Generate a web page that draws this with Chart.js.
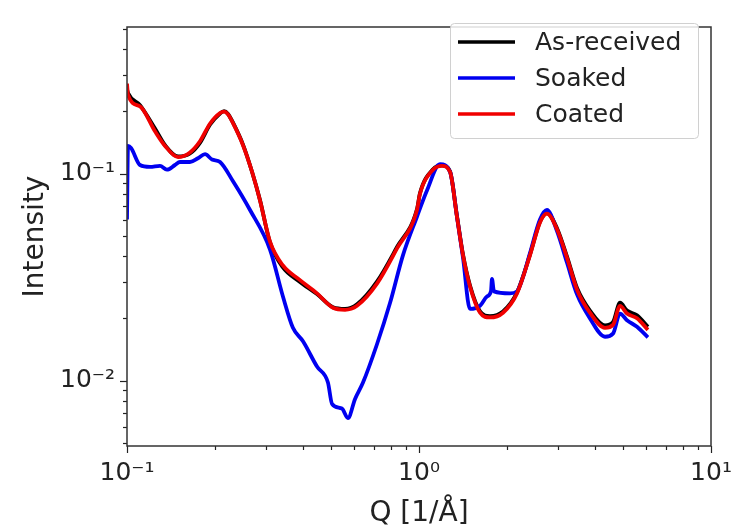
<!DOCTYPE html>
<html>
<head>
<meta charset="utf-8">
<script src="https://cdn.jsdelivr.net/npm/chart.js@4.4.1/dist/chart.umd.min.js"></script>
<style>
  html, body { margin: 0; padding: 0; background: #fff; }
  #wrap { width: 745px; height: 525px; }
</style>
</head>
<body>
<div id="wrap"><canvas id="chart" width="745" height="525"></canvas></div>
<script>
// --- Data (Q in 1/Å, intensity) ---

const SERIES_LABELS = ['As-received', 'Soaked', 'Coated'];
const SERIES_COLORS = ['#000000', '#0000f0', '#f00000'];

const qReceived = [
  0.100, 0.1008, 0.1108, 0.1247, 0.135, 0.1496, 0.1643, 0.178, 0.1923, 0.2083,
  0.2150, 0.2218, 0.2307, 0.2496, 0.268, 0.2854, 0.3088, 0.342, 0.3913, 0.4474,
  0.5077, 0.558, 0.6135, 0.718, 0.841, 0.984, 1.008, 1.117, 1.199, 1.277,
  1.349, 1.415, 1.495, 1.618, 1.750, 1.940, 2.166, 2.399, 2.596, 2.742,
  2.969, 3.213, 3.477, 3.85, 4.335, 4.62, 4.88, 5.155, 5.58, 6.08,
];
const received = [
  0.255, 0.245, 0.214, 0.165, 0.137, 0.121, 0.125, 0.141, 0.172, 0.195,
  0.200, 0.194, 0.176, 0.138, 0.102, 0.0745, 0.0465, 0.0352, 0.0300, 0.0262,
  0.0226, 0.0222, 0.0234, 0.0301, 0.0442, 0.0672, 0.0805, 0.1050, 0.1095, 0.1025,
  0.0625, 0.0406, 0.0288, 0.0216, 0.0205, 0.0216, 0.0267, 0.0406, 0.0585, 0.0645,
  0.0545, 0.0397, 0.0280, 0.0218, 0.0185, 0.0192, 0.0238, 0.0218, 0.0207, 0.0182,
];

const qCoated = qReceived;
const coated = [
  0.272, 0.240, 0.211, 0.160, 0.136, 0.120, 0.1265, 0.1436, 0.174, 0.196,
  0.199, 0.193, 0.175, 0.137, 0.102, 0.0742, 0.0469, 0.0360, 0.0306, 0.0264,
  0.0225, 0.0220, 0.0230, 0.0294, 0.0435, 0.0667, 0.0800, 0.1044, 0.1090, 0.1020,
  0.0619, 0.0403, 0.0285, 0.0213, 0.0202, 0.0213, 0.0264, 0.0403, 0.0581, 0.0640,
  0.0539, 0.0392, 0.0275, 0.0213, 0.0180, 0.0186, 0.0230, 0.0211, 0.0200, 0.0176,
];

const qSoaked = [
  0.100, 0.1008, 0.1032, 0.1108, 0.1199, 0.1297, 0.137, 0.146, 0.1518, 0.1643,
  0.175, 0.185, 0.1955, 0.2083, 0.2307, 0.2638, 0.3088, 0.342, 0.370, 0.4006,
  0.4474, 0.4877, 0.5035, 0.5445, 0.571, 0.604, 0.643, 0.718, 0.7956, 0.881,
  0.984, 1.064, 1.18, 1.277, 1.349, 1.415, 1.495, 1.618, 1.709, 1.764,
  1.778, 1.806, 2.05, 2.166, 2.27, 2.399, 2.596, 2.742, 2.969, 3.213,
  3.477, 3.85, 4.335, 4.62, 4.88, 5.155, 5.58, 6.08,
];
const soaked = [
  0.060, 0.136, 0.133, 0.110, 0.1077, 0.109, 0.1044, 0.110, 0.1137, 0.1137,
  0.1186, 0.124, 0.117, 0.1137, 0.0918, 0.0667, 0.0430, 0.0255, 0.0180, 0.0155,
  0.0117, 0.0098, 0.00774, 0.00734, 0.00660, 0.00817, 0.0098, 0.0150, 0.0237, 0.0403,
  0.0619, 0.0826, 0.111, 0.102, 0.0619, 0.0392, 0.0222, 0.0230, 0.0255, 0.0270,
  0.0310, 0.0270, 0.0264, 0.0270, 0.0316, 0.0413, 0.0600, 0.0667, 0.0527, 0.0371,
  0.0261, 0.0200, 0.0163, 0.0169, 0.0211, 0.0196, 0.0182, 0.0162,
];

const X_MIN = 0.1, X_MAX = 10;
const Y_MIN = 0.00484, Y_MAX = 0.51;
const SUPERSCRIPT = { '-2': '⁻²', '-1': '⁻¹', '0': '⁰', '1': '¹' };

const FONT = '"DejaVu Sans", sans-serif';

// --- helpers ---

function toPoints(xs, ys) {
  return xs.map((x, i) => ({ x, y: ys[i] }));
}

// all 1..9 x 10^n values inside [lo, hi]
function logTicks(lo, hi) {
  const out = [];
  for (let e = Math.floor(Math.log10(lo)); e <= Math.ceil(Math.log10(hi)); e++) {
    for (let m = 1; m <= 9; m++) {
      const v = m * Math.pow(10, e);
      if (v >= lo * 0.9999 && v <= hi * 1.0001) out.push({ value: v, major: m === 1 });
    }
  }
  return out;
}

function decadeLabel(v) {
  const e = Math.round(Math.log10(v));
  if (Math.abs(v - Math.pow(10, e)) > 1e-9 * v) return '';
  return '10' + SUPERSCRIPT[String(e)];
}

// --- frame, tick marks and legend drawn on top of the chart area ---

const framePlugin = {
  id: 'frame',
  afterDraw(chart) {
    const { ctx, chartArea: a, scales } = chart;
    ctx.save();
    ctx.strokeStyle = '#222';
    ctx.lineWidth = 1.2;

    for (const t of scales.x.ticks) {
      const px = Math.round(scales.x.getPixelForValue(t.value)) + 0.5;
      const len = t.major ? 7 : 4;
      ctx.beginPath();
      ctx.moveTo(px, a.bottom);
      ctx.lineTo(px, a.bottom + len);
      ctx.stroke();
    }
    for (const t of scales.y.ticks) {
      const py = Math.round(scales.y.getPixelForValue(t.value)) + 0.5;
      const len = t.major ? 7 : 4;
      ctx.beginPath();
      ctx.moveTo(a.left, py);
      ctx.lineTo(a.left - len, py);
      ctx.stroke();
    }

    ctx.strokeStyle = '#333';
    ctx.lineWidth = 1.5;
    ctx.strokeRect(a.left, a.top, a.right - a.left, a.bottom - a.top);

    // legend, upper right
    const bx = 450, by = 23, bw = 248, bh = 115;
    ctx.fillStyle = 'rgba(255,255,255,0.85)';
    ctx.strokeStyle = '#d0d0d0';
    ctx.lineWidth = 1;
    ctx.beginPath();
    ctx.roundRect(bx + 0.5, by + 0.5, bw, bh, 4);
    ctx.fill();
    ctx.stroke();

    ctx.font = '25px ' + FONT;
    ctx.textBaseline = 'middle';
    ctx.textAlign = 'left';
    chart.data.datasets.forEach((ds, i) => {
      const y = 42 + i * 36;
      ctx.strokeStyle = ds.borderColor;
      ctx.lineWidth = 3.5;
      ctx.beginPath();
      ctx.moveTo(458, y);
      ctx.lineTo(515, y);
      ctx.stroke();
      ctx.fillStyle = '#222';
      ctx.fillText(ds.label, 535, y + 1);
    });
    ctx.restore();
  },
};

// --- chart ---

const lineStyle = {
  borderWidth: 3.8,
  pointRadius: 0,
  cubicInterpolationMode: 'monotone',
  fill: false,
};

new Chart(document.getElementById('chart'), {
  type: 'line',
  data: {
    datasets: [
      { ...lineStyle, label: SERIES_LABELS[0], data: toPoints(qReceived, received), borderColor: SERIES_COLORS[0], order: 2 },
      { ...lineStyle, label: SERIES_LABELS[1], data: toPoints(qSoaked, soaked), borderColor: SERIES_COLORS[1], order: 1 },
      { ...lineStyle, label: SERIES_LABELS[2], data: toPoints(qCoated, coated), borderColor: SERIES_COLORS[2], order: 0 },
    ],
  },
  options: {
    responsive: false,
    animation: false,
    layout: { padding: { left: 0, right: 34, top: 9, bottom: 0 } },
    plugins: {
      legend: { display: false },
      tooltip: { enabled: false },
    },
    scales: {
      x: {
        type: 'logarithmic',
        min: X_MIN,
        max: X_MAX,
        afterBuildTicks: (s) => { s.ticks = logTicks(X_MIN, X_MAX); },
        afterFit: (s) => { s.height = 79; },
        grid: { display: false, drawTicks: false },
        border: { display: false },
        ticks: {
          autoSkip: false,
          maxRotation: 0,
          padding: 12,
          color: '#222',
          font: { family: FONT, size: 25 },
          callback: (v) => decadeLabel(v),
        },
        title: {
          display: true,
          text: 'Q [1/Å]',
          color: '#222',
          font: { family: FONT, size: 28, lineHeight: 0.8 },
          padding: { top: 0, bottom: 0 },
        },
      },
      y: {
        type: 'logarithmic',
        min: Y_MIN,
        max: Y_MAX,
        afterBuildTicks: (s) => { s.ticks = logTicks(Y_MIN, Y_MAX); },
        afterFit: (s) => { s.width = 127; },
        grid: { display: false, drawTicks: false },
        border: { display: false },
        ticks: {
          autoSkip: false,
          padding: 12,
          color: '#222',
          font: { family: FONT, size: 25 },
          callback: (v) => decadeLabel(v),
        },
        title: {
          display: true,
          text: 'Intensity',
          color: '#222',
          font: { family: FONT, size: 28 },
          padding: { top: 19, bottom: 0 },
        },
      },
    },
  },
  plugins: [framePlugin],
});
</script>
</body>
</html>
